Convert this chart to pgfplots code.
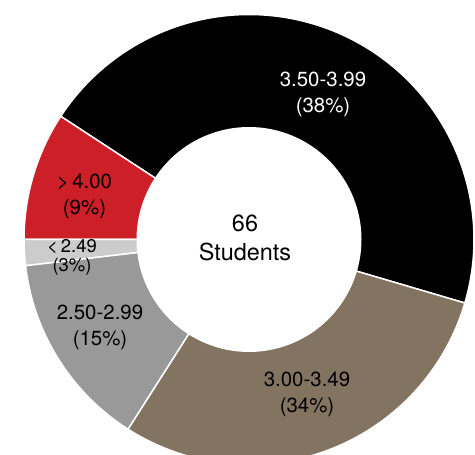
\documentclass[border=0pt]{standalone}
\usepackage{pgfplots}
\pgfplotsset{compat=1.18}
\usepackage{fontspec}
\setmainfont{TeX Gyre Heros}
\definecolor{cRed}{RGB}{204,31,39}
\definecolor{cBrown}{RGB}{131,116,97}
\definecolor{cGray}{RGB}{153,153,153}
\definecolor{cLight}{RGB}{204,204,204}
\begin{document}
\begin{tikzpicture}
\begin{axis}[
  scale only axis,
  axis line style={draw=none}, xtick=\empty, ytick=\empty,
  width=475bp, height=455bp,
  xmin=-249, xmax=226, ymin=-215.5, ymax=239.5,
  samples=150,
]
\path[use as bounding box] (axis cs:-249,-215.5) rectangle (axis cs:226,239.5);
% slices: start angle : end angle (degrees)
\addplot[fill=black, draw=white, line width=1.5bp, domain=343.6:506.8] ({225*cos(x)},{225*sin(x)}) -- (axis cs:0,0) -- cycle;
\addplot[fill=cRed, draw=white, line width=1.5bp, domain=146.8:180] ({225*cos(x)},{225*sin(x)}) -- (axis cs:0,0) -- cycle;
\addplot[fill=cLight, draw=white, line width=1.5bp, domain=180:186.7] ({225*cos(x)},{225*sin(x)}) -- (axis cs:0,0) -- cycle;
\addplot[fill=cGray, draw=white, line width=1.5bp, domain=186.7:237.5] ({225*cos(x)},{225*sin(x)}) -- (axis cs:0,0) -- cycle;
\addplot[fill=cBrown, draw=white, line width=1.5bp, domain=237.5:343.6] ({225*cos(x)},{225*sin(x)}) -- (axis cs:0,0) -- cycle;
% hole
\addplot[fill=white, draw=none, domain=0:360] ({112.5*cos(x)},{112.5*sin(x)}) -- cycle;
% labels
\node[align=center, text=white, font=\fontsize{20.5}{26}\selectfont] at (axis cs:74,145.5) {3.50-3.99\\(38\%)};
\node[align=center, text=black, font=\fontsize{20.5}{26}\selectfont] at (axis cs:-164.5,43.5) {>\,4.00\\(9\%)};
\node[align=center, text=black, font=\fontsize{18.5}{19.5}\selectfont] at (axis cs:-177,-18) {<\,2.49\\(3\%)};
\node[align=center, text=black, font=\fontsize{20.5}{26}\selectfont] at (axis cs:-149,-87.5) {2.50-2.99\\(15\%)};
\node[align=center, text=black, font=\fontsize{20.5}{26}\selectfont] at (axis cs:58,-155) {3.00-3.49\\(34\%)};
\node[align=center, text=black, font=\fontsize{23.5}{29}\selectfont] at (axis cs:-4,2) {66\\Students};
\end{axis}
\end{tikzpicture}
\end{document}
